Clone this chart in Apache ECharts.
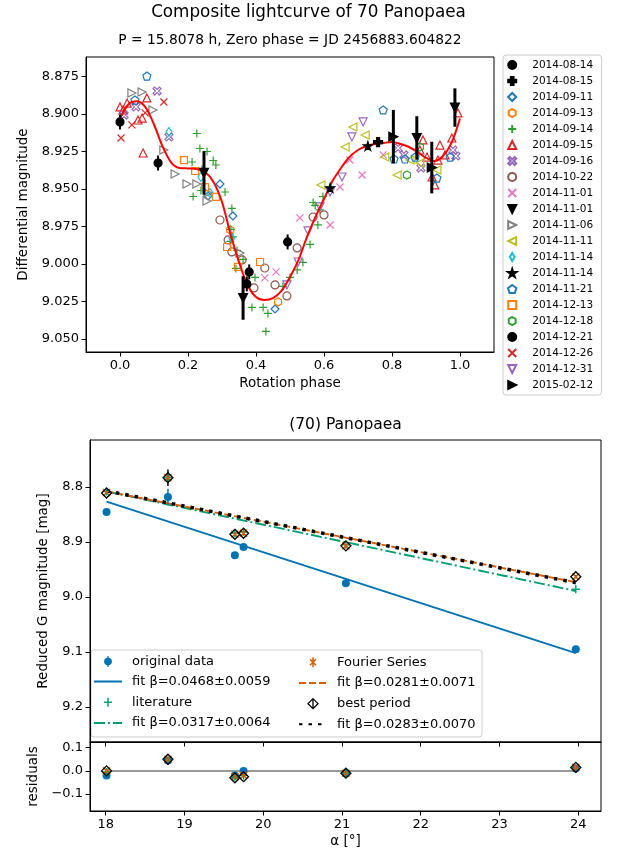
<!DOCTYPE html>
<html><head><meta charset="utf-8">
<script src="https://cdn.jsdelivr.net/npm/echarts@6/dist/echarts.min.js"></script>
<style>html,body{margin:0;padding:0;background:#fff}#c{width:617px;height:849px}</style>
</head><body><div id="c"></div>
<script>
// ================= TOP: composite lightcurve =================
const phaseTicks = [0.0, 0.2, 0.4, 0.6, 0.8, 1.0];
const magTicks = [8.875, 8.900, 8.925, 8.950, 8.975, 9.000, 9.025, 9.050];

const fitPhase = [0.000,0.025,0.050,0.075,0.100,0.125,0.150,0.175,0.200,0.225,0.250,0.275,0.300,0.325,0.350,0.375,0.400,0.425,0.450,0.475,0.500,0.525,0.550,0.575,0.600,0.625,0.650,0.675,0.700,0.725,0.750,0.775,0.800,0.825,0.850,0.875,0.900,0.925,0.950,0.975,1.000];
const fitMag = [8.903,8.8935,8.8915,8.8955,8.907,8.9215,8.9322,8.936,8.9363,8.9367,8.9387,8.9453,8.9587,8.980,8.9987,9.014,9.022,9.024,9.0227,9.018,9.0087,8.9973,8.982,8.9687,8.9567,8.9447,8.936,8.9287,8.924,8.9213,8.920,8.9193,8.9187,8.920,8.922,8.9253,8.9293,8.9313,8.928,8.9193,8.903];

const s0814 = [[0.000,8.9053],[0.112,8.9327]];
const e0814 = [0.005,0.005];
const s0815 = [[0.759,8.9187]];
const s0911 = [[0.294,8.9467],[0.259,8.9547],[0.332,8.968],[0.456,9.030]];
const s0913 = [[0.324,8.9773],[0.465,9.0253]];
const s0914 = [[0.226,8.913],[0.235,8.923],[0.256,8.925],[0.274,8.931],[0.212,8.932],[0.241,8.937],[0.215,8.955],[0.238,8.951],[0.309,8.952],[0.329,8.963],[0.326,8.977],[0.332,8.982],[0.324,8.985],[0.344,8.991],[0.362,8.997],[0.397,9.009],[0.388,9.029],[0.421,9.029],[0.435,9.033],[0.429,9.045],[0.500,9.009],[0.521,9.004],[0.538,8.999],[0.559,8.987],[0.574,8.961],[0.588,8.964],[0.582,8.974],[0.479,9.015],[0.568,8.959],[0.597,8.955],[0.282,8.934],[0.341,9.003]];
const s0915 = [[0.000,8.8953],[0.021,8.8927],[0.009,8.8973],[0.053,8.904],[0.065,8.9027],[0.079,8.8893],[0.068,8.926],[0.891,8.9173],[0.941,8.9207],[0.956,8.9273],[0.935,8.9307],[0.903,8.9287],[0.918,8.942],[0.926,8.9473],[0.976,8.916],[0.994,8.8993],[0.882,8.924]];
const s0916 = [[0.109,8.8847],[0.047,8.8953],[0.012,8.9007],[0.144,8.9153],[0.818,8.9227],[0.885,8.936],[0.979,8.924],[0.988,8.928],[0.835,8.9273]];
const s1022 = [[0.294,8.9707],[0.329,8.992],[0.359,8.9973],[0.426,9.0027],[0.394,9.016],[0.456,9.014],[0.491,9.0213],[0.521,8.9893],[0.568,8.9687],[0.600,8.9673],[0.318,8.984]];
const s1101a = [[0.529,8.9693],[0.618,8.974],[0.459,9.0053],[0.426,9.0093],[0.676,8.9307],[0.712,8.9407],[0.647,8.9487],[0.774,8.9273]];
const s1101b = [[0.247,8.9393],[0.362,9.0227],[0.873,8.916],[0.985,8.8957]];
const e1101b = [0.0145,0.0145,0.0145,0.0128];
const s1106 = [[0.035,8.886],[0.065,8.8853],[0.097,8.8973],[0.129,8.924],[0.162,8.940],[0.197,8.9467],[0.226,8.9467],[0.256,8.958],[0.353,8.9927],[0.259,8.9527]];
const s1111 = [[0.591,8.9473],[0.662,8.922],[0.685,8.9087],[0.721,8.914],[0.779,8.9287],[0.815,8.9407],[0.882,8.9327],[0.932,8.9373],[0.853,8.9307]];
const s1114a = [[0.144,8.912],[0.238,8.942],[0.265,8.9527],[0.329,8.9827]];
const s1114b = [[0.618,8.9493],[0.729,8.9213]];
const s1121 = [[0.079,8.8747],[0.044,8.8907],[0.774,8.8973],[0.806,8.930],[0.838,8.930],[0.868,8.9287],[0.932,8.9427],[0.971,8.9287]];
const s1213 = [[0.188,8.9307],[0.221,8.938],[0.250,8.9487],[0.282,8.9553],[0.315,8.9887],[0.347,9.002],[0.412,8.9987]];
const s1218 = [[0.844,8.9407],[0.882,8.922]];
const s1221 = [[0.493,8.9853],[0.380,9.0053],[0.373,9.0133]];
const e1221 = [0.005,0.005,0.005];
const s1226 = [[0.129,8.892],[0.035,8.9073],[0.003,8.916],[0.074,8.8993]];
const s1231 = [[0.715,8.9053],[0.682,8.9153],[0.653,8.942],[0.618,8.952],[0.588,8.962],[0.553,8.978],[0.524,8.9987],[0.491,9.014]];
const s0212 = [[0.804,8.9151],[0.917,8.9357]];
const e0212 = [0.0178,0.0172];

// ================= BOTTOM: phase curve =================
const alphaTicks = [18, 19, 20, 21, 22, 23, 24];
const redMagTicks = [8.8, 8.9, 9.0, 9.1, 9.2];
const resTicks = [-0.1, 0.0, 0.1];
const alpha = [18.01, 18.79, 19.64, 19.75, 21.05, 23.97];
const origMag = [8.8455, 8.818, 8.924, 8.909, 8.975, 9.095];
const origErr = [0.003, 0.015, 0.003, 0.003, 0.003, 0.003];
const litMag = [8.808, 8.783, 8.884, 8.882, 8.905, 8.986];
const fourMag = [8.810, 8.783, 8.886, 8.884, 8.907, 8.963];
const bestMag = [8.811, 8.783, 8.886, 8.884, 8.907, 8.963];
const bestErr = [0.003, 0.015, 0.003, 0.003, 0.003, 0.003];
const fitAlpha = [18.01, 23.97];
const fitOrig = [8.8265, 9.102];
const fitLit = [8.808, 8.989];
const fitFour = [8.808, 8.973];
const fitBest = [8.807, 8.974];
const resOrig = [-0.02, 0.045, -0.02, 0.0, -0.01, 0.01];
const resLit = [-0.005, 0.045, -0.025, -0.02, -0.01, 0.01];
const resFour = [0.0, 0.05, -0.025, -0.02, -0.01, 0.015];
const resBest = [0.0, 0.05, -0.03, -0.025, -0.01, 0.015];
const resZero = [0, 0];

// ================= styling =================
const FONT = 'DejaVu Sans';
const T = {blue:'#1f77b4',orange:'#ff7f0e',green:'#2ca02c',red:'#d62728',purple:'#9467bd',brown:'#8c564b',pink:'#e377c2',gray:'#7f7f7f',olive:'#bcbd22',cyan:'#17becf'};
const CB = {blue:'#0173b2', green:'#029e73', orange:'#d55e00'};
const NONE = 'rgba(0,0,0,0)';
const P_PLUSF = 'path://M3.3,0H6.7V3.3H10V6.7H6.7V10H3.3V6.7H0V3.3H3.3Z';
const P_PLUS = 'path://M5,0L5,10M0,5L10,5';
const P_X = 'path://M0,0L10,10M10,0L0,10';
const P_XF = 'path://M0,2L2,0L5,3L8,0L10,2L7,5L10,8L8,10L5,7L2,10L0,8L3,5Z';
const P_TU = 'path://M5,0L10,10L0,10Z';
const P_TD = 'path://M0,0L10,0L5,10Z';
const P_TL = 'path://M10,0L10,10L0,5Z';
const P_TR = 'path://M0,0L0,10L10,5Z';
const P_DIA = 'path://M5,0L10,5L5,10L0,5Z';
const P_TDIA = 'path://M3,0L6,5L3,10L0,5Z';
const P_SQ = 'path://M0,0H10V10H0Z';
const P_PENT = 'path://M5,0L10,3.6L8.09,9.5L1.91,9.5L0,3.6Z';
const P_HEX = 'path://M5,0L9.33,2.5L9.33,7.5L5,10L0.67,7.5L0.67,2.5Z';
const P_STAR = 'path://M5,0L6.12,3.45L9.76,3.45L6.82,5.59L7.94,9.05L5,6.91L2.06,9.05L3.18,5.59L0.24,3.45L3.88,3.45Z';

const topDefs = [
  {name:'2014-08-14', data:s0814, sym:'circle', size:8, fill:'#000', stroke:'#000', z:5},
  {name:'2014-08-15', data:s0815, sym:P_PLUSF, size:9, fill:'#000', stroke:'#000', z:5},
  {name:'2014-09-11', data:s0911, sym:P_DIA, size:8, fill:NONE, stroke:T.blue},
  {name:'2014-09-13', data:s0913, sym:P_HEX, size:[7,8], fill:NONE, stroke:T.orange},
  {name:'2014-09-14', data:s0914, sym:P_PLUS, size:8, fill:NONE, stroke:T.green},
  {name:'2014-09-15', data:s0915, sym:P_TU, size:8, fill:NONE, stroke:T.red},
  {name:'2014-09-16', data:s0916, sym:P_XF, size:8, fill:NONE, stroke:T.purple},
  {name:'2014-10-22', data:s1022, sym:'circle', size:8, fill:NONE, stroke:T.brown},
  {name:'2014-11-01', data:s1101a, sym:P_X, size:7, fill:NONE, stroke:T.pink},
  {name:'2014-11-01 ', data:s1101b, sym:P_TD, size:9, fill:'#000', stroke:'#000', z:5},
  {name:'2014-11-06', data:s1106, sym:P_TR, size:8, fill:NONE, stroke:T.gray},
  {name:'2014-11-11', data:s1111, sym:P_TL, size:8, fill:NONE, stroke:T.olive},
  {name:'2014-11-14', data:s1114a, sym:P_TDIA, size:[6,9], fill:NONE, stroke:T.cyan},
  {name:'2014-11-14 ', data:s1114b, sym:P_STAR, size:9, fill:'#000', stroke:'#000', z:5},
  {name:'2014-11-21', data:s1121, sym:P_PENT, size:8, fill:NONE, stroke:T.blue},
  {name:'2014-12-13', data:s1213, sym:P_SQ, size:7, fill:NONE, stroke:T.orange},
  {name:'2014-12-18', data:s1218, sym:P_HEX, size:[7,8], fill:NONE, stroke:T.green},
  {name:'2014-12-21', data:s1221, sym:'circle', size:8, fill:'#000', stroke:'#000', z:5},
  {name:'2014-12-26', data:s1226, sym:P_X, size:7, fill:NONE, stroke:T.red},
  {name:'2014-12-31', data:s1231, sym:P_TD, size:8, fill:NONE, stroke:T.purple},
  {name:'2015-02-12', data:s0212, sym:P_TR, size:9, fill:'#000', stroke:'#000', z:5}
];

function errSeries(name, xs, ys, errs, axisIdx, color, width, z) {
  return {
    type:'custom', name:name, xAxisIndex:axisIdx, yAxisIndex:axisIdx, z:z, silent:true,
    data: xs.map((x,i)=>[x, ys[i], errs[i]]),
    encode:{x:0, y:1},
    renderItem: function(params, api){
      const x = api.value(0), y = api.value(1), e = api.value(2);
      const a = api.coord([x, y - e]), b = api.coord([x, y + e]);
      return {type:'line', shape:{x1:a[0], y1:a[1], x2:b[0], y2:b[1]}, style:{stroke:color, lineWidth:width}};
    }
  };
}

const series = [];
series.push({type:'line', name:'fit', xAxisIndex:0, yAxisIndex:0, data: fitPhase.map((p,i)=>[p, fitMag[i]]), showSymbol:false, symbol:'none', smooth:0.3, lineStyle:{color:'#ff0000', width:2}, z:3, silent:true});
topDefs.forEach(d => {
  series.push({type:'scatter', name:d.name, xAxisIndex:0, yAxisIndex:0, data:d.data, symbol:d.sym, symbolSize:d.size,
    itemStyle:{color:d.fill, borderColor:d.stroke, borderWidth:1.2, opacity:1}, z:d.z||2, silent:true});
});
series.push(errSeries('e0814', s0814.map(p=>p[0]), s0814.map(p=>p[1]), e0814, 0, '#000', 2, 5));
series.push(errSeries('e1101b', s1101b.map(p=>p[0]), s1101b.map(p=>p[1]), e1101b, 0, '#000', 3, 5));
series.push(errSeries('e1221', s1221.map(p=>p[0]), s1221.map(p=>p[1]), e1221, 0, '#000', 2, 5));
series.push(errSeries('e0212', s0212.map(p=>p[0]), s0212.map(p=>p[1]), e0212, 0, '#000', 3, 5));

// bottom main
const zip = (a,b) => a.map((v,i)=>[v,b[i]]);
series.push({type:'line', name:'fit β=0.0468±0.0059', xAxisIndex:1, yAxisIndex:1, data:zip(fitAlpha, fitOrig), symbol:'none', lineStyle:{color:CB.blue, width:1.9}, z:2});
series.push({type:'line', name:'fit β=0.0317±0.0064', xAxisIndex:1, yAxisIndex:1, data:zip(fitAlpha, fitLit), symbol:'none', lineStyle:{color:CB.green, width:1.9, type:[11,3,2,3]}, z:2});
series.push({type:'line', name:'fit β=0.0281±0.0071', xAxisIndex:1, yAxisIndex:1, data:zip(fitAlpha, fitFour), symbol:'none', lineStyle:{color:CB.orange, width:1.9, type:[7,3]}, z:3});
series.push({type:'line', name:'fit β=0.0283±0.0070', xAxisIndex:1, yAxisIndex:1, data:zip(fitAlpha, fitBest), symbol:'none', lineStyle:{color:'#000', width:3.5, type:[3.5,6], cap:'butt'}, z:4});
series.push(errSeries('eo', alpha, origMag, origErr, 1, CB.blue, 1.5, 4));
series.push(errSeries('eb', alpha, bestMag, bestErr, 1, '#000', 1.5, 4));
series.push({type:'scatter', name:'original data', xAxisIndex:1, yAxisIndex:1, data:zip(alpha, origMag), symbol:'circle', symbolSize:8, itemStyle:{color:CB.blue, opacity:1}, z:4});
series.push({type:'scatter', name:'literature', xAxisIndex:1, yAxisIndex:1, data:zip(alpha, litMag), symbol:P_PLUS, symbolSize:8, itemStyle:{color:NONE, borderColor:CB.green, borderWidth:1.5, opacity:1}, z:5});
series.push({type:'scatter', name:'Fourier Series', xAxisIndex:1, yAxisIndex:1, data:zip(alpha, fourMag), symbol:P_X, symbolSize:7, itemStyle:{color:NONE, borderColor:CB.orange, borderWidth:1.5, opacity:1}, z:5});
series.push({type:'scatter', name:'best period', xAxisIndex:1, yAxisIndex:1, data:zip(alpha, bestMag), symbol:P_DIA, symbolSize:10, itemStyle:{color:NONE, borderColor:'#000', borderWidth:1.3, opacity:1}, z:6});
// residuals
series.push({type:'line', name:'zero', xAxisIndex:2, yAxisIndex:2, data:zip(fitAlpha, resZero), symbol:'none', lineStyle:{color:'#999', width:2}, z:1});
series.push({type:'scatter', name:'r1', xAxisIndex:2, yAxisIndex:2, data:zip(alpha, resOrig), symbol:'circle', symbolSize:8, itemStyle:{color:CB.blue, opacity:1}, z:3});
series.push({type:'scatter', name:'r2', xAxisIndex:2, yAxisIndex:2, data:zip(alpha, resLit), symbol:P_PLUS, symbolSize:8, itemStyle:{color:NONE, borderColor:CB.green, borderWidth:1.5, opacity:1}, z:4});
series.push({type:'scatter', name:'r3', xAxisIndex:2, yAxisIndex:2, data:zip(alpha, resFour), symbol:P_X, symbolSize:7, itemStyle:{color:NONE, borderColor:CB.orange, borderWidth:1.5, opacity:1}, z:5});
series.push({type:'scatter', name:'r4', xAxisIndex:2, yAxisIndex:2, data:zip(alpha, resBest), symbol:P_DIA, symbolSize:10, itemStyle:{color:NONE, borderColor:'#000', borderWidth:1.3, opacity:1}, z:6});

const lbl = {color:'#000', fontFamily:FONT, fontSize:13};
function axX(grid, min, max, ticks, fmt, name, gap, showLabels) {
  return {type:'value', gridIndex:grid, min:min, max:max,
    axisLine:{show:true, onZero:false, lineStyle:{color:'#000', width:1}},
    axisTick:{show:true, length:4.5, customValues:ticks, lineStyle:{color:'#000', width:1}},
    axisLabel:Object.assign({show:showLabels, customValues:ticks, formatter:fmt, margin:7}, lbl),
    splitLine:{show:false}, name:name, nameLocation:'middle', nameGap:gap,
    nameTextStyle:{color:'#000', fontFamily:FONT, fontSize:13.5}};
}
function axY(grid, min, max, ticks, fmt, name, gap, inverse) {
  return {type:'value', gridIndex:grid, min:min, max:max, inverse:inverse,
    axisLine:{show:true, onZero:false, lineStyle:{color:'#000', width:1}},
    axisTick:{show:true, length:4.5, customValues:ticks, lineStyle:{color:'#000', width:1}},
    axisLabel:Object.assign({customValues:ticks, formatter:fmt, margin:7}, lbl),
    splitLine:{show:false}, name:name, nameLocation:'middle', nameGap:gap,
    nameTextStyle:{color:'#000', fontFamily:FONT, fontSize:13.5}};
}
const minus = v => (v < 0 ? '\u2212' + Math.abs(v).toFixed(1) : v.toFixed(1));

const topLegendData = topDefs.map(d => d.name);
const legIcon = {
  orig: 'path://M0,0M26,13M17,6.5L16.46,8.5L15,9.96L13,10.5L11,9.96L9.54,8.5L9,6.5L9.54,4.5L11,3.04L13,2.5L15,3.04L16.46,4.5ZM12.4,1h1.2v11h-1.2Z',
  lit: 'path://M0,0M26,13M13,2V11M9,6.5H17',
  four: 'path://M0,0M26,13M10,3.5L16,9.5M16,3.5L10,9.5M13,1.5V11.5',
  best: 'path://M0,0M26,13M13,1.5L18,6.5L13,11.5L8,6.5ZM13,1.5V11.5'
};
const hideSym = {color:NONE, borderColor:NONE, borderWidth:0};

const option = {
  animation:false,
  textStyle:{fontFamily:FONT},
  grid:[
    {left:86, top:57, width:408, height:295, show:true, borderColor:'#000', borderWidth:1, backgroundColor:NONE},
    {left:90, top:440, width:511, height:302, show:true, borderColor:'#000', borderWidth:1, backgroundColor:NONE},
    {left:90, top:742, width:511, height:73, show:true, borderColor:'#000', borderWidth:1, backgroundColor:NONE}
  ],
  xAxis:[
    axX(0, -0.1, 1.1, phaseTicks, v=>v.toFixed(1), 'Rotation phase', 24, true),
    axX(1, 17.8, 24.29, alphaTicks, v=>String(v), '', 0, false),
    axX(2, 17.8, 24.29, alphaTicks, v=>String(v), 'α [°]', 23, true)
  ],
  yAxis:[
    axY(0, 8.862, 9.0587, magTicks, v=>v.toFixed(3), 'Differential magnitude', 53, true),
    axY(1, 8.7145, 9.2636, redMagTicks, v=>v.toFixed(1), 'Reduced G magnitude [mag]', 40, true),
    axY(2, -0.173, 0.1245, resTicks, minus, 'residuals', 40, false)
  ],
  legend:[
    {data:topLegendData, orient:'vertical', left:503, top:55, itemWidth:22, itemHeight:8, itemGap:4,
     padding:[4,5,4,4], borderColor:'#ccc', borderWidth:1, borderRadius:3, backgroundColor:'#fff',
     textStyle:{fontFamily:FONT, fontSize:10.5, color:'#000', lineHeight:12, padding:[0,0,0,4]}, selectedMode:false},
    {data:[{name:'original data', icon:legIcon.orig, itemStyle:{color:CB.blue, borderColor:CB.blue, borderWidth:0}},
           {name:'fit β=0.0468±0.0059', itemStyle:hideSym},
           {name:'literature', icon:legIcon.lit, itemStyle:{color:NONE, borderColor:CB.green, borderWidth:1.5}},
           {name:'fit β=0.0317±0.0064', itemStyle:hideSym}],
     orient:'vertical', left:93, top:655, itemWidth:28, itemHeight:13, itemGap:7, padding:0,
     textStyle:{fontFamily:FONT, fontSize:13, color:'#000', padding:[0,0,0,5]}, selectedMode:false},
    {data:[{name:'Fourier Series', icon:legIcon.four, itemStyle:{color:NONE, borderColor:CB.orange, borderWidth:1.5}},
           {name:'fit β=0.0281±0.0071', itemStyle:hideSym},
           {name:'best period', icon:legIcon.best, itemStyle:{color:NONE, borderColor:'#000', borderWidth:1.3}},
           {name:'fit β=0.0283±0.0070', itemStyle:hideSym}],
     orient:'vertical', left:298, top:655, itemWidth:28, itemHeight:13, itemGap:7, padding:0,
     textStyle:{fontFamily:FONT, fontSize:13, color:'#000', padding:[0,0,0,5]}, selectedMode:false}
  ],
  graphic:[
    {type:'text', x:308.5, y:13, style:{text:'Composite lightcurve of 70 Panopaea', font:'16.8px "DejaVu Sans"', fill:'#000', align:'center', verticalAlign:'middle'}},
    {type:'text', x:290, y:40, style:{text:'P = 15.8078 h, Zero phase = JD 2456883.604822', font:'13.8px "DejaVu Sans"', fill:'#000', align:'center', verticalAlign:'middle'}},
    {type:'text', x:345.5, y:425, style:{text:'(70) Panopaea', font:'15.5px "DejaVu Sans"', fill:'#000', align:'center', verticalAlign:'middle'}},
    {type:'rect', shape:{x:91, y:650, width:391, height:87, r:3}, style:{fill:'rgba(255,255,255,0.8)', stroke:'#ccc', lineWidth:1}, z:-1}
  ],
  series:series
};
const chart = echarts.init(document.getElementById('c'));
chart.setOption(option);
</script>
</body></html>
